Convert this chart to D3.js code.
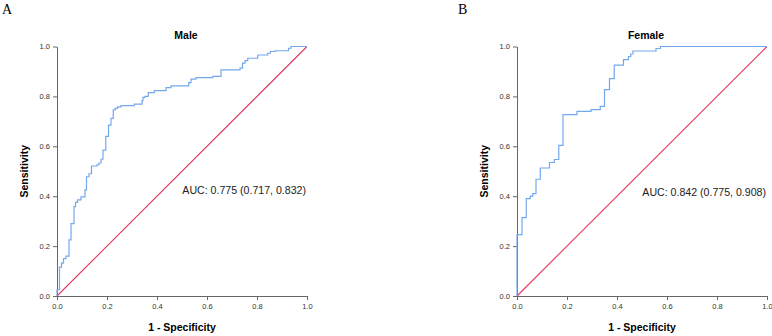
<!DOCTYPE html>
<html>
<head>
<meta charset="utf-8">
<script src="https://cdn.jsdelivr.net/npm/d3@7"></script>
<style>
  body { margin: 0; background: #fff; }
  svg { display: block; font-family: "Liberation Sans", Arial, sans-serif; }
  .axis path, .axis line { stroke: #666; }
  .axis text { fill: #333; font-size: 7.5px; }
</style>
</head>
<body>
<svg id="chart" width="772" height="336"></svg>
<script>
// ROC coordinates (1 - specificity, sensitivity)
const maleFpr = [0, 0, 0.010, 0.018, 0.026, 0.036, 0.048, 0.056, 0.068, 0.074, 0.082, 0.096, 0.112, 0.118, 0.128, 0.138, 0.160, 0.168, 0.176, 0.184, 0.195, 0.206, 0.216, 0.225, 0.233, 0.242, 0.256, 0.309, 0.340, 0.344, 0.352, 0.365, 0.389, 0.436, 0.456, 0.527, 0.536, 0.556, 0.623, 0.656, 0.732, 0.742, 0.752, 0.763, 0.803, 0.843, 0.854, 0.873, 0.926, 0.936, 1]
const maleTpr = [0, 0.025, 0.116, 0.132, 0.150, 0.160, 0.225, 0.290, 0.358, 0.375, 0.385, 0.397, 0.425, 0.478, 0.490, 0.521, 0.526, 0.533, 0.548, 0.585, 0.640, 0.685, 0.712, 0.746, 0.752, 0.758, 0.763, 0.769, 0.783, 0.796, 0.800, 0.815, 0.823, 0.835, 0.842, 0.855, 0.869, 0.875, 0.880, 0.906, 0.913, 0.933, 0.943, 0.953, 0.966, 0.973, 0.980, 0.983, 0.993, 1, 1]

const femaleFpr = [0, 0, 0.020, 0.037, 0.053, 0.063, 0.076, 0.093, 0.130, 0.149, 0.167, 0.184, 0.240, 0.296, 0.333, 0.350, 0.370, 0.389, 0.426, 0.446, 0.455, 0.464, 0.556, 0.574, 1]
const femaleTpr = [0, 0.246, 0.314, 0.390, 0.400, 0.410, 0.468, 0.513, 0.535, 0.547, 0.604, 0.727, 0.740, 0.747, 0.760, 0.827, 0.871, 0.925, 0.947, 0.960, 0.970, 0.982, 0.992, 1, 1]

const panelLetters = ['A', 'B']
const panelTitles = ['Male', 'Female']
const aucLabels = ['AUC: 0.775 (0.717, 0.832)', 'AUC: 0.842 (0.775, 0.908)']
const tickValues = [0, 0.2, 0.4, 0.6, 0.8, 1.0]

const svg = d3.select('#chart')

const panels = [
    {left: 57, letterX: 2, fpr: maleFpr, tpr: maleTpr},
    {left: 517, letterX: 458, fpr: femaleFpr, tpr: femaleTpr}
]

const plotW = 250
const plotTop = 46.5
const plotBottom = 296

panels.forEach((p, i) => {
    const g = svg.append('g').attr('class', 'panel')

    const x = d3.scaleLinear().domain([0, 1]).range([p.left, p.left + plotW])
    const y = d3.scaleLinear().domain([0, 1]).range([plotBottom, plotTop])

    // 坐标轴
    const xAxis = d3.axisBottom(x).tickValues(tickValues).tickFormat(d3.format('.1f'))
        .tickSizeInner(4).tickSizeOuter(0).tickPadding(4)
    g.append('g').attr('class', 'axis')
        .attr('transform', `translate(0,${plotBottom})`).call(xAxis)

    const yAxis = d3.axisLeft(y).tickValues(tickValues).tickFormat(d3.format('.1f'))
        .tickSizeInner(4).tickSizeOuter(0).tickPadding(3)
    g.append('g').attr('class', 'axis')
        .attr('transform', `translate(${p.left},0)`).call(yAxis)

    // 参考对角线
    const diag = d3.line().x(d => x(d)).y(d => y(d))
    g.append('path').datum([0, 1])
        .attr('d', diag)
        .style('fill', 'none')
        .style('stroke', '#e2385c')
        .style('stroke-width', 1.1)

    // ROC 曲线
    const pts = p.fpr.map((f, k) => [f, p.tpr[k]])
    const line = d3.line().x(d => x(d[0])).y(d => y(d[1])).curve(d3.curveStepAfter)
    g.append('path').datum(pts)
        .attr('d', line)
        .style('fill', 'none')
        .style('stroke', '#74a8ee')
        .style('stroke-width', 1.2)

    // 文字
    g.append('text')
        .attr('x', x(0.5) + 4).attr('y', 39)
        .attr('text-anchor', 'middle')
        .style('font-weight', 'bold').style('font-size', '10.5px')
        .text(panelTitles[i])

    g.append('text')
        .attr('x', x(0.5)).attr('y', 331)
        .attr('text-anchor', 'middle')
        .style('font-weight', 'bold').style('font-size', '10.5px')
        .text('1 - Specificity')

    g.append('text')
        .attr('transform', `translate(${p.left - 29},${y(0.5)}) rotate(-90)`)
        .attr('text-anchor', 'middle')
        .style('font-weight', 'bold').style('font-size', '10.5px')
        .text('Sensitivity')

    g.append('text')
        .attr('x', x(1) - 1).attr('y', 194 + i * 1.5)
        .attr('text-anchor', 'end')
        .style('font-size', '10.6px').style('fill', '#222')
        .text(aucLabels[i])

    svg.append('text')
        .attr('x', p.letterX).attr('y', 13.5)
        .style('font-family', '"Liberation Serif", "Times New Roman", serif')
        .style('font-size', '14px')
        .text(panelLetters[i])
})
</script>
</body>
</html>
